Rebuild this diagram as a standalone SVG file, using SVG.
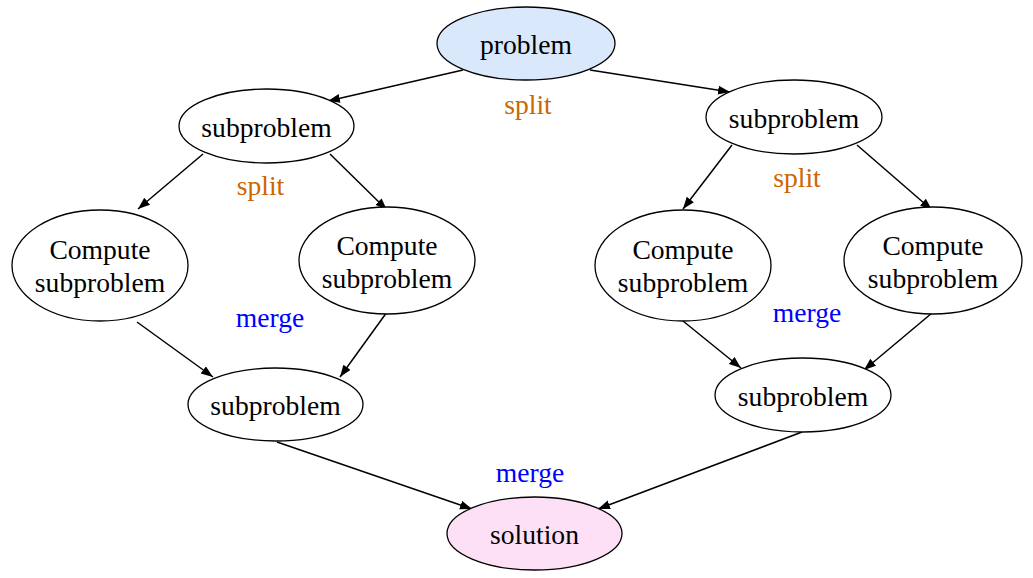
<svg xmlns="http://www.w3.org/2000/svg" width="1033" height="578" viewBox="0 0 1033 578">
<style>
.n{fill:#ffffff;stroke:#000;stroke-width:1.3}
.t{font-family:"Liberation Serif","Times New Roman",serif;font-size:27.6px;fill:#000;text-anchor:middle}
.split{font-family:"Liberation Serif","Times New Roman",serif;font-size:27.6px;fill:#cc6600;text-anchor:middle}
.merge{font-family:"Liberation Serif","Times New Roman",serif;font-size:27.6px;fill:#0000ff;text-anchor:middle}
.e{stroke:#000;stroke-width:1.5;fill:none;marker-end:url(#ah)}
</style>
<defs>
<marker id="ah" markerUnits="userSpaceOnUse" markerWidth="13" markerHeight="10" refX="12" refY="4.5" orient="auto">
<path d="M0,0 L12,4.5 L0,9 Z" fill="#000"/>
</marker>
</defs>
<rect width="1033" height="578" fill="#ffffff"/>
<g id="connectors">
<line class="e" x1="463" y1="70" x2="328" y2="101"/>
<line class="e" x1="590" y1="70" x2="730" y2="92"/>
<line class="e" x1="203" y1="154" x2="138" y2="209"/>
<line class="e" x1="330" y1="154" x2="387" y2="210"/>
<line class="e" x1="732" y1="145" x2="683" y2="209"/>
<line class="e" x1="857" y1="145" x2="932" y2="210"/>
<line class="e" x1="137" y1="322" x2="213" y2="377"/>
<line class="e" x1="387" y1="312" x2="340" y2="377"/>
<line class="e" x1="683" y1="321" x2="741" y2="368"/>
<line class="e" x1="932" y1="313" x2="864" y2="370"/>
<line class="e" x1="277" y1="442" x2="472" y2="509"/>
<line class="e" x1="802" y1="432" x2="598" y2="509"/>
</g>
<g id="problem"><ellipse class="n" cx="526" cy="43.5" rx="89" ry="36.5" style="fill:#dae8fc"/><text class="t" x="526" y="54">problem</text></g>
<g id="sub-left"><ellipse class="n" cx="266.5" cy="126" rx="87.5" ry="37"/><text class="t" x="266.5" y="137">subproblem</text></g>
<g id="sub-right"><ellipse class="n" cx="794" cy="117" rx="88" ry="37"/><text class="t" x="794" y="128">subproblem</text></g>
<g id="compute-l1"><ellipse class="n" cx="100" cy="265.5" rx="88" ry="55.5"/><text class="t" x="100" y="259">Compute</text><text class="t" x="100" y="292">subproblem</text></g>
<g id="compute-l2"><ellipse class="n" cx="387" cy="260.5" rx="88" ry="53.5"/><text class="t" x="387" y="255">Compute</text><text class="t" x="387" y="288">subproblem</text></g>
<g id="compute-r1"><ellipse class="n" cx="683" cy="265.5" rx="88" ry="55.5"/><text class="t" x="683" y="259">Compute</text><text class="t" x="683" y="292">subproblem</text></g>
<g id="compute-r2"><ellipse class="n" cx="933" cy="260.5" rx="89" ry="53.5"/><text class="t" x="933" y="255">Compute</text><text class="t" x="933" y="288">subproblem</text></g>
<g id="merge-left"><ellipse class="n" cx="275.5" cy="404.5" rx="87.5" ry="36.5"/><text class="t" x="275.5" y="415">subproblem</text></g>
<g id="merge-right"><ellipse class="n" cx="803" cy="395" rx="88" ry="37"/><text class="t" x="803" y="406">subproblem</text></g>
<g id="solution"><ellipse class="n" cx="534.5" cy="533.5" rx="87.5" ry="36.5" style="fill:#fde0f5"/><text class="t" x="534.5" y="544">solution</text></g>
<g id="labels">
<text class="split" x="528" y="114">split</text>
<text class="split" x="260.5" y="195">split</text>
<text class="split" x="797" y="187">split</text>
<text class="merge" x="270" y="327">merge</text>
<text class="merge" x="807" y="322">merge</text>
<text class="merge" x="530" y="482">merge</text>
</g>
</svg>
